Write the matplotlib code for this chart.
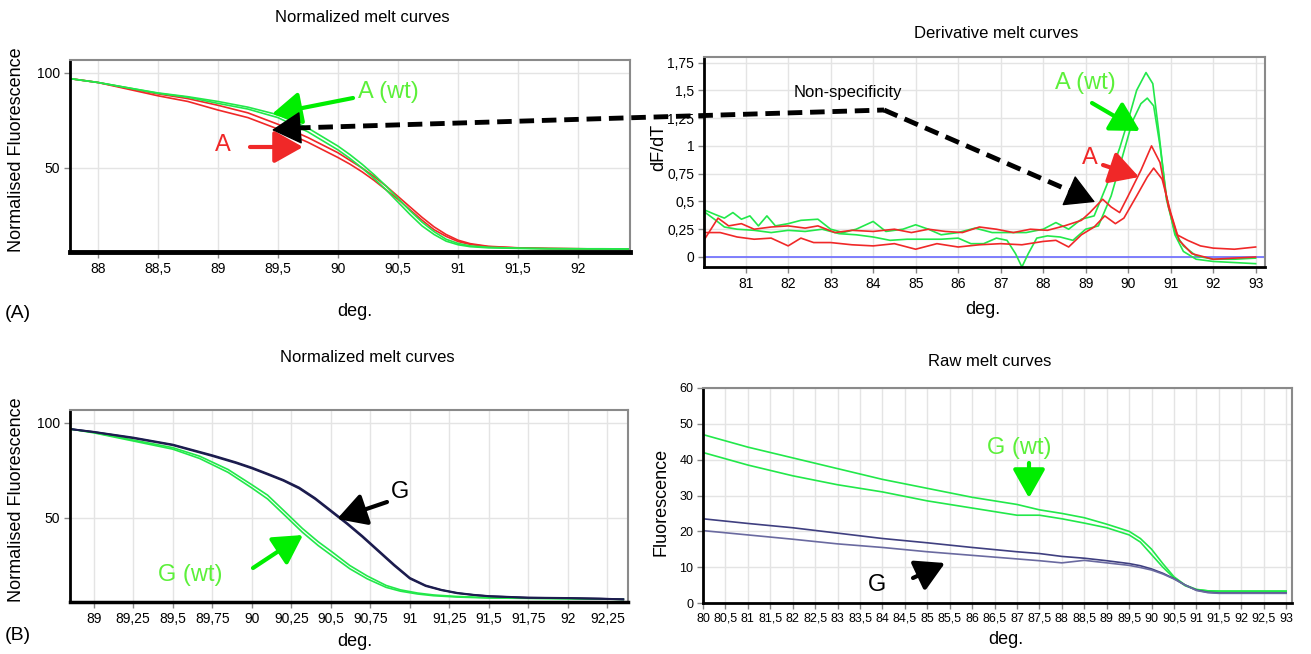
import matplotlib
matplotlib.use("Agg")
import matplotlib.pyplot as plt
from matplotlib.ticker import FuncFormatter, MultipleLocator, FixedLocator

plt.rcParams['font.family'] = ['Liberation Sans Narrow', 'Liberation Sans', 'DejaVu Sans']

# ---------------- data ----------------
# (A) normalized melt curves
tl_x = [87.77, 88.0, 88.25, 88.5, 88.75, 89.0, 89.25, 89.5, 89.75, 90.0, 90.1, 90.2, 90.3, 90.4,
        90.5, 90.6, 90.7, 90.8, 90.9, 91.0, 91.1, 91.25, 91.5, 91.75, 92.0, 92.2, 92.43]
tl_red1 = [97, 95, 92, 89, 86.5, 83, 79, 73, 66, 58, 54, 50, 45.5, 40.5, 35, 29.5, 24, 19, 15,
           12, 10.2, 8.8, 8, 7.7, 7.5, 7.4, 7.3]
tl_red2 = [97, 95, 91.5, 88, 85, 80.5, 76.5, 70.5, 63.5, 55.5, 52, 48, 43.5, 38.5, 33.5, 28, 22.5,
           17.5, 14, 11.3, 9.8, 8.6, 7.9, 7.6, 7.5, 7.4, 7.3]
tl_green1 = [97, 95, 92.2, 89.5, 87.5, 85, 82, 78, 71, 61.5, 57, 52, 46.5, 40.5, 34, 27.5, 21.5,
             16.5, 12.5, 10.3, 9, 8.3, 7.8, 7.6, 7.5, 7.5, 7.4]
tl_green2 = [97, 95, 92.2, 89.3, 87.2, 84, 81, 76.5, 69, 59.5, 55, 50, 44.5, 38.5, 32, 25.5, 19.5,
             15, 11.5, 9.6, 8.6, 8, 7.7, 7.5, 7.5, 7.4, 7.4]

# (A) derivative melt curves
tr_g1_x = [80.05, 80.3, 80.5, 80.7, 80.9, 81.1, 81.3, 81.5, 81.7, 82.0, 82.3, 82.7, 83.0, 83.3,
           83.6, 84.0, 84.3, 84.7, 85.0, 85.3, 85.6, 86.0, 86.4, 86.8, 87.2, 87.6, 88.0, 88.3,
           88.6, 88.9, 89.2, 89.5, 89.8, 90.0, 90.2, 90.42, 90.58, 90.72, 90.9, 91.1, 91.3,
           91.6, 92.0, 92.5, 93.0]
tr_g1_y = [0.42, 0.38, 0.35, 0.40, 0.34, 0.37, 0.28, 0.37, 0.28, 0.30, 0.33, 0.34, 0.25, 0.22,
           0.25, 0.32, 0.23, 0.25, 0.29, 0.25, 0.20, 0.22, 0.26, 0.22, 0.22, 0.22, 0.25, 0.31,
           0.25, 0.34, 0.37, 0.65, 0.98, 1.23, 1.50, 1.66, 1.56, 1.13, 0.52, 0.22, 0.10, 0.01,
           -0.02, -0.02, -0.01]
tr_g2_x = [80.05, 80.3, 80.5, 80.8, 81.2, 81.6, 82.0, 82.4, 82.8, 83.2, 83.6, 84.0, 84.4, 84.8,
           85.2, 85.6, 86.0, 86.3, 86.6, 86.9, 87.15, 87.35, 87.5, 87.65, 87.85, 88.1, 88.4,
           88.7, 89.0, 89.3, 89.6, 89.9, 90.1, 90.3, 90.45, 90.6, 90.75, 90.9, 91.1, 91.3,
           91.6, 92.0, 92.5, 93.0]
tr_g2_y = [0.40, 0.33, 0.27, 0.25, 0.24, 0.22, 0.24, 0.23, 0.25, 0.21, 0.20, 0.18, 0.15, 0.16,
           0.16, 0.16, 0.17, 0.12, 0.12, 0.17, 0.15, 0.03, -0.09, 0.03, 0.17, 0.19, 0.18,
           0.15, 0.25, 0.28, 0.55, 0.95, 1.22, 1.38, 1.43, 1.36, 1.0, 0.55, 0.2, 0.05,
           -0.02, -0.04, -0.05, -0.06]
tr_r1_x = [80.05, 80.35, 80.6, 80.9, 81.2, 81.6, 82.0, 82.4, 82.7, 83.1, 83.5, 84.0, 84.5, 84.9,
           85.3, 85.7, 86.1, 86.5, 86.9, 87.3, 87.7, 88.1, 88.5, 88.9, 89.1, 89.4, 89.6, 89.8,
           90.0, 90.3, 90.55, 90.75, 90.95, 91.15, 91.4, 91.7, 92.0, 92.5, 93.0]
tr_r1_y = [0.17, 0.35, 0.28, 0.30, 0.25, 0.27, 0.28, 0.26, 0.28, 0.22, 0.24, 0.23, 0.25, 0.22,
           0.25, 0.23, 0.22, 0.27, 0.25, 0.22, 0.25, 0.24, 0.28, 0.33, 0.40, 0.52, 0.45, 0.40,
           0.55, 0.78, 1.0, 0.85, 0.45, 0.20, 0.15, 0.10, 0.08, 0.07, 0.09]
tr_r2_x = [80.05, 80.4, 80.8, 81.2, 81.6, 82.0, 82.3, 82.6, 83.0, 83.5, 84.0, 84.5, 85.0, 85.5,
           86.0, 86.5, 87.0, 87.5, 88.0, 88.3, 88.6, 88.9, 89.2, 89.45, 89.7, 89.9, 90.2,
           90.45, 90.6, 90.8, 91.0, 91.2, 91.5, 92.0, 92.5, 93.0]
tr_r2_y = [0.22, 0.22, 0.18, 0.16, 0.17, 0.10, 0.17, 0.13, 0.13, 0.11, 0.10, 0.12, 0.07, 0.12,
           0.09, 0.11, 0.12, 0.11, 0.14, 0.15, 0.09, 0.20, 0.27, 0.37, 0.30, 0.35, 0.55,
           0.72, 0.80, 0.70, 0.40, 0.15, 0.03, -0.02, -0.01, 0.0]

# (B) normalized melt curves
bl_navy_x = [88.85, 89.0, 89.25, 89.5, 89.75, 89.9, 90.0, 90.1, 90.2, 90.3, 90.4, 90.5, 90.6,
             90.7, 90.8, 90.9, 91.0, 91.1, 91.2, 91.3, 91.4, 91.5, 91.75, 92.0, 92.2, 92.35]
bl_navy1 = [96.8, 95.3, 92.3, 88.6, 83, 79.3, 76.5, 73.3, 70, 66, 60.5, 54, 47.5, 40.5, 33,
            25.5, 18.5, 14.5, 12.2, 10.6, 9.6, 8.9, 8.1, 7.9, 7.6, 7.2]
bl_navy2 = [96.8, 95.2, 92.0, 88.3, 82.6, 78.9, 76.1, 72.9, 69.6, 65.5, 60, 53.5, 47, 40, 32.5,
            25, 18.1, 14.2, 12.0, 10.4, 9.5, 8.8, 8.0, 7.8, 7.5, 7.2]
bl_green_x = [88.85, 89.0, 89.25, 89.5, 89.67, 89.85, 90.0, 90.1, 90.22, 90.32, 90.42, 90.51,
              90.62, 90.73, 90.85, 90.94, 91.05, 91.15, 91.3, 91.5, 91.75, 92.0, 92.35]
bl_green1 = [96.8, 95, 91, 87, 82.5, 75.5, 67.5, 62, 52.5, 44.5, 37.5, 32, 25, 19.5, 14.5, 12.2,
             10.5, 9.5, 8.7, 8.1, 7.8, 7.6, 7.2]
bl_green2 = [96.8, 94.8, 90.5, 86.2, 81.3, 74, 65.8, 60, 50.5, 42.5, 35.5, 30, 23.3, 18, 13.5,
             11.5, 10.0, 9.1, 8.4, 7.9, 7.7, 7.5, 7.2]

# (B) raw melt curves
br_x = [80, 81, 82, 83, 84, 85, 86, 87, 87.5, 88, 88.5, 89, 89.5, 89.75, 90, 90.25, 90.5,
        90.75, 91, 91.25, 91.5, 92, 92.5, 93]
br_green1 = [47, 43.5, 40.5, 37.5, 34.5, 32, 29.5, 27.5, 26, 25, 23.8, 22, 20, 18, 15, 11, 7.3,
             5, 3.8, 3.4, 3.3, 3.3, 3.3, 3.3]
br_green2 = [42, 38.5, 35.5, 33, 31, 28.5, 26.5, 24.5, 24.5, 23.5, 22.3, 21, 19, 17, 13.5, 10, 7,
             4.8, 3.7, 3.4, 3.3, 3.3, 3.3, 3.3]
br_navy1 = [23.5, 22.2, 21, 19.5, 18, 16.8, 15.5, 14.3, 13.8, 13, 12.5, 11.8, 11, 10.4, 9.5,
            8.3, 6.8, 5, 3.6, 3.0, 2.8, 2.8, 2.8, 2.8]
br_navy2 = [20.2, 19, 17.8, 16.5, 15.5, 14.3, 13.3, 12.3, 11.8, 11.2, 11.9, 11.2, 10.5, 9.9,
            9.2, 8.1, 6.7, 5, 3.5, 2.9, 2.7, 2.7, 2.7, 2.7]

GREEN = "#22e84a"
RED = "#f02828"
NAVY = "#1c1c4e"
NAVY2 = "#3f3f80"
TXT_GREEN = "#5cf03a"
SANS = ["Liberation Sans", "DejaVu Sans"]

W, H = 1311, 654
fig = plt.figure(figsize=(W / 100, H / 100), dpi=100)

# axes boxes in pixels (left, top, right, bottom)
boxes = {
    "tl": (70, 60, 630, 252),
    "tr": (704, 57, 1265, 267),
    "bl": (70, 410, 628, 602),
    "br": (703, 388, 1292, 603),
}


def make_ax(key):
    l, t, r, b = boxes[key]
    return fig.add_axes([l / W, 1 - b / H, (r - l) / W, (b - t) / H])


def to_frac(key, px, py):
    l, t, r, b = boxes[key]
    return (px - l) / (r - l), (b - py) / (b - t)


comma = FuncFormatter(lambda v, p: f"{v:g}".replace(".", ","))


def style(ax, key, title, title_px, ylabel, ylab_px, xlab_px, xstep, yticks, tsize=10):
    ax.set_facecolor("white")
    for s in ("top", "right"):
        ax.spines[s].set_color("#8a8a8a")
        ax.spines[s].set_linewidth(1.5)
    for s in ("left", "bottom"):
        ax.spines[s].set_color("black")
        ax.spines[s].set_linewidth(2)
    ax.xaxis.set_major_locator(MultipleLocator(xstep))
    ax.yaxis.set_major_locator(FixedLocator(yticks))
    ax.xaxis.set_major_formatter(comma)
    ax.yaxis.set_major_formatter(comma)
    ax.tick_params(length=4, width=1, color="#888888", labelsize=tsize, pad=3)
    ax.grid(True, color="#e4e4e4", lw=1)
    ax.set_axisbelow(True)
    fx, fy = to_frac(key, *title_px)
    ax.text(fx, fy, title, transform=ax.transAxes, ha="center", va="center", fontsize=12)
    ax.set_ylabel(ylabel, fontsize=13, family=SANS)
    ax.yaxis.set_label_coords(*to_frac(key, *ylab_px))
    ax.yaxis.label.set_va("center")
    ax.set_xlabel("deg.", fontsize=13)
    ax.xaxis.set_label_coords(*to_frac(key, *xlab_px))
    ax.xaxis.label.set_va("center")


# ---- (A) normalized ----
ax = make_ax("tl")
ax.plot(tl_x, tl_red1, color=RED, lw=1.2)
ax.plot(tl_x, tl_red2, color=RED, lw=1.2)
ax.plot(tl_x, tl_green1, color=GREEN, lw=1.2)
ax.plot(tl_x, tl_green2, color=GREEN, lw=1.2)
ax.set_xlim(87.77, 92.43)
ax.set_ylim(5.8, 106.8)
style(ax, "tl", "Normalized melt curves", (362, 17), "Normalised Fluorescence", (17, 150),
      (355, 312), 0.5, [50, 100])
ax.spines["bottom"].set_linewidth(3.5)

# ---- (A) derivative ----
ax = make_ax("tr")
ax.axhline(0, color="#6b6bff", lw=1.2)
ax.plot(tr_g1_x, tr_g1_y, color=GREEN, lw=1.2)
ax.plot(tr_g2_x, tr_g2_y, color=GREEN, lw=1.2)
ax.plot(tr_r1_x, tr_r1_y, color=RED, lw=1.2)
ax.plot(tr_r2_x, tr_r2_y, color=RED, lw=1.2)
ax.set_xlim(80.02, 93.22)
ax.set_ylim(-0.09, 1.8)
style(ax, "tr", "Derivative melt curves", (996, 33), "dF/dT", (659, 147), (983, 310), 1,
      [0, 0.25, 0.5, 0.75, 1, 1.25, 1.5, 1.75])

# ---- (B) normalized ----
ax = make_ax("bl")
ax.plot(bl_green_x, bl_green1, color=GREEN, lw=1.2)
ax.plot(bl_green_x, bl_green2, color=GREEN, lw=1.2)
ax.plot(bl_navy_x, bl_navy1, color=NAVY, lw=1.4)
ax.plot(bl_navy_x, bl_navy2, color=NAVY, lw=1.4)
ax.set_xlim(88.85, 92.38)
ax.set_ylim(5.8, 106.8)
style(ax, "bl", "Normalized melt curves", (367, 358), "Normalised Fluorescence", (17, 500),
      (355, 641), 0.25, [50, 100])
ax.spines["bottom"].set_linewidth(2.5)

# ---- (B) raw ----
ax = make_ax("br")
ax.plot(br_x, br_green1, color=GREEN, lw=1.2)
ax.plot(br_x, br_green2, color=GREEN, lw=1.2)
ax.plot(br_x, br_navy1, color=NAVY2, lw=1.2)
ax.plot(br_x, br_navy2, color="#6a6aa0", lw=1.2)
ax.set_xlim(80, 93.13)
ax.set_ylim(0, 60)
style(ax, "br", "Raw melt curves", (990, 361), "Fluorescence", (661, 502), (1006, 640), 0.5,
      [0, 10, 20, 30, 40, 50, 60], tsize=9)

# ---- overlay for annotations (pixel coords, origin top-left) ----
ov = fig.add_axes([0, 0, 1, 1], zorder=10)
ov.set_xlim(0, W)
ov.set_ylim(H, 0)
ov.axis("off")
ov.patch.set_alpha(0)


def arrow(p0, p1, color, lw=3, scale=22):
    ov.annotate("", xy=p1, xytext=p0,
                arrowprops=dict(arrowstyle="-|>,head_length=0.8,head_width=0.45",
                                color=color, lw=lw, mutation_scale=scale,
                                shrinkA=0, shrinkB=0))


def label(x, y, s, color="black", size=17):
    ov.text(x, y, s, color=color, fontsize=size, ha="center", va="center", family=SANS)


# panel (A) left
label(388, 92, "A (wt)", TXT_GREEN)
arrow((353, 98), (272, 114), "#00ee00")
label(223, 145, "A", RED)
arrow((250, 147), (303, 147), RED)

# non-specificity dashed arrows
ov.plot([296, 884], [128, 110], color="black", lw=3.5, ls=(0, (3, 1.6)))
ov.plot([884, 1075], [110, 193], color="black", lw=3.5, ls=(0, (3, 1.6)))
arrow((298, 128), (272, 130), "black", lw=1, scale=24)
arrow((1072, 192), (1095, 202), "black", lw=1, scale=24)
label(848, 92, "Non-specificity", size=12)

# panel (A) right
label(1085, 83, "A (wt)", TXT_GREEN)
arrow((1092, 103), (1140, 131), "#00ee00")
label(1090, 158, "A", RED)
arrow((1103, 165), (1139, 177), RED)

# panel (B) left
label(400, 492, "G")
arrow((387, 502), (337, 519), "black")
label(190, 575, "G (wt)", TXT_GREEN)
arrow((253, 568), (303, 535), "#00ee00")

# panel (B) right
label(1019, 448, "G (wt)", TXT_GREEN)
arrow((1029, 463), (1029, 498), "#00ee00")
label(877, 585, "G")
arrow((913, 578), (945, 563), "black")

# panel letters
label(18, 313, "(A)", size=14)
label(18, 635, "(B)", size=14)

fig.savefig("out.png", dpi=100)
